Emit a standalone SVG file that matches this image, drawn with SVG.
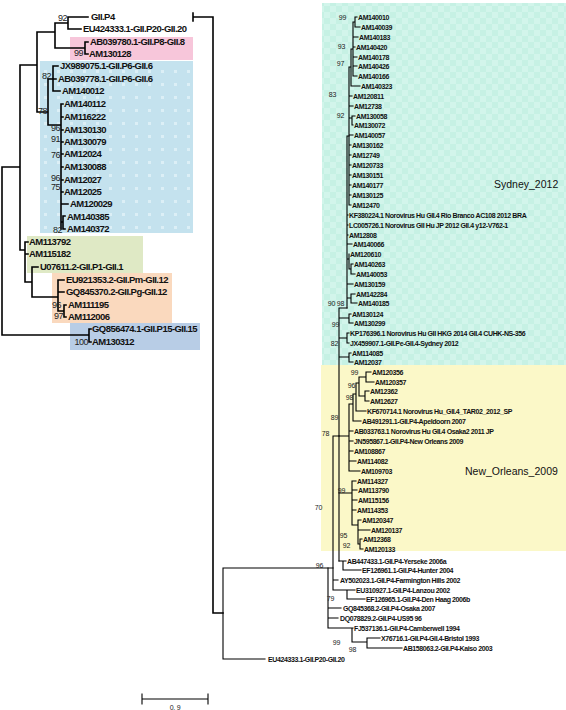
<svg xmlns="http://www.w3.org/2000/svg" width="566" height="710" viewBox="0 0 566 710">
<style>
.bl{stroke:#000;stroke-width:1.6;fill:none;stroke-linecap:square}
.br{stroke:#000;stroke-width:1.1;fill:none;stroke-linecap:square}
.tl{font-family:"Liberation Sans",Arial,sans-serif;font-size:9.5px;font-weight:bold;letter-spacing:-0.55px;fill:#111}
.tr{font-family:"Liberation Sans",Arial,sans-serif;font-size:7px;font-weight:bold;letter-spacing:-0.4px;fill:#111}
.bsl{font-family:"Liberation Sans",Arial,sans-serif;font-size:9px;letter-spacing:-0.5px;fill:#222;text-anchor:end}
.bsr{font-family:"Liberation Sans",Arial,sans-serif;font-size:7px;letter-spacing:-0.3px;fill:#222;text-anchor:end}
.cl{font-family:"Liberation Sans",Arial,sans-serif;font-size:10.5px;fill:#111}
</style>
<defs>
<pattern id="chk" width="12" height="12" patternUnits="userSpaceOnUse">
<rect width="12" height="12" fill="#c6f1e4"/>
<rect x="0" y="0" width="6" height="6" fill="#d2f5eb"/>
<rect x="6" y="6" width="6" height="6" fill="#d2f5eb"/>
</pattern>
<pattern id="dots" width="13" height="13" patternUnits="userSpaceOnUse">
<rect width="13" height="13" fill="#c4e2ee"/>
<rect x="5" y="5" width="3" height="3" fill="#dceff6"/>
</pattern>
</defs>
<rect width="566" height="710" fill="#fff"/>
<g id="clade-boxes">
<rect x="70" y="37" width="123" height="23" fill="#f7c6da"/>
<rect x="40" y="61" width="153" height="172" fill="url(#dots)"/>
<rect x="27" y="236" width="116" height="37" fill="#dfe9c5"/>
<rect x="52" y="273" width="120" height="50" fill="#fad9be"/>
<rect x="70" y="323" width="130" height="27" fill="#b8cde6"/>
<rect x="322" y="3" width="244" height="362" fill="url(#chk)"/>
<rect x="321" y="365" width="245" height="186" fill="#fbf8c8"/>
</g>
<g id="connectors">
<path class="bl" d="M2 167V335M2 167H20M2 335H89M89 329V342M89 329H91M89 342H91M20 65V250M20 65H37M37 32V112M37 32H55M55 23V48M55 23H68M68 17V29M68 17H88M68 29H81M55 48H85M85 42V54M85 42H88M85 54H88M37 112H48M48 79V125M48 79H53M53 66V91M53 66H58M53 79H56M53 91H60M48 125H61M61 104V229M61 104H63M61 117H63M61 130H63M61 142H63M61 154H63M61 167H63M61 180H63M61 192H63M61 204H68M61 222H63M63 216V229M63 216H65M63 229H65M20 250H25M25 242V282M25 242H28M25 254H28M25 282H32M32 267V297M32 267H38M32 297H58M58 280V311M58 280H64M58 292H64M58 311H64M64 305V317M64 305H66M64 317H66"/>
<path class="bl" d="M193 13V21M193 17H213M213 17V613M213 613H223"/>
<path class="br" d="M223 568V659M223 568H333M223 659H265"/>
<path class="br" d="M355 17V27M355 17H357M355 27H360M353 22V76M353 22H355M353 37H358M353 47H355M353 57H357M353 66H357M353 76H357M351 49V86M351 49H353M351 86H360M349 67V205M349 67H351M349 96H352M349 106H353M349 118H352M352 116V125M352 116H355M352 125H353M349 135H353M349 145H351M349 155H351M349 165H351M349 175H351M349 185H351M349 195H351M349 205H351"/>
<path class="br" d="M347 136V308M347 136H349M347 215H348M347 225H348M347 235H348M347 244H352M347 259H349M349 254V269M349 269H351M351 264V274M351 264H353M351 274H355M347 284H353M347 298H351M351 294V303M351 294H355M351 303H357"/>
<path class="br" d="M339 308V561M339 308H347M339 318H349M349 314V323M349 314H351M349 323H353M339 338H347M347 333V343M347 333H349M347 343H349M339 357H349M349 353V362M349 353H351M349 362H353"/>
<path class="br" d="M339 436H349M349 404V471M349 404H353M349 431H353M349 441H353M349 451H353M349 461H356M349 471H360M353 394V421M353 394H356M353 421H361M356 383V411M356 383H359M356 411H366M359 377V396M359 377H366M359 396H365M366 372V382M366 372H371M366 382H374M365 391V401M365 391H369M365 401H369"/>
<path class="br" d="M339 493H352M352 481V525M352 481H356M352 490H357M352 500H357M352 510H356M352 525H358M358 520V544M358 520H361M358 530H370M358 544H360M360 539V549M360 539H362M360 549H363M339 561H346M343 561V570M343 570H361"/>
<path class="br" d="M333 436V590M333 436H339M333 580H338M333 590H355M347 590V599M347 599H365M328 568V628M328 608H341M328 618H338M328 628H353M352 628V642M352 642H367M367 638V648M367 638H380M367 648H402"/>
<path class="br" d="M142 699H208M142 694V704M208 694V704"/>
</g>
<g id="left-tree-labels">
<g id="n-GII.P4"><text class="tl" x="91" y="20.4">GII.P4</text></g>
<g id="n-EU424333-a"><text class="tl" x="83" y="32.4">EU424333.1-GII.P20-GII.20</text></g>
<g id="n-AB039780"><text class="tl" x="90" y="45.4">AB039780.1-GII.P8-GII.8</text></g>
<g id="n-AM130128"><text class="tl" x="89" y="57.4">AM130128</text></g>
<g id="n-JX989075"><text class="tl" x="60" y="69.4">JX989075.1-GII.P6-GII.6</text></g>
<g id="n-AB039778"><text class="tl" x="58" y="82.4">AB039778.1-GII.P6-GII.6</text></g>
<g id="n-AM140012"><text class="tl" x="62" y="94.4">AM140012</text></g>
<g id="n-AM140112"><text class="tl" x="64" y="107.4">AM140112</text></g>
<g id="n-AM116222"><text class="tl" x="64" y="120.4">AM116222</text></g>
<g id="n-AM130130"><text class="tl" x="64" y="133.4">AM130130</text></g>
<g id="n-AM130079"><text class="tl" x="64" y="145.4">AM130079</text></g>
<g id="n-AM12024"><text class="tl" x="64" y="157.4">AM12024</text></g>
<g id="n-AM130088"><text class="tl" x="64" y="170.4">AM130088</text></g>
<g id="n-AM12027"><text class="tl" x="64" y="183.4">AM12027</text></g>
<g id="n-AM12025"><text class="tl" x="64" y="195.4">AM12025</text></g>
<g id="n-AM120029"><text class="tl" x="70" y="207.4">AM120029</text></g>
<g id="n-AM140385"><text class="tl" x="67" y="220.4">AM140385</text></g>
<g id="n-AM140372"><text class="tl" x="67" y="232.4">AM140372</text></g>
<g id="n-AM113792"><text class="tl" x="29" y="245.4">AM113792</text></g>
<g id="n-AM115182"><text class="tl" x="29" y="257.4">AM115182</text></g>
<g id="n-U07611"><text class="tl" x="40" y="270.4">U07611.2-GII.P1-GII.1</text></g>
<g id="n-EU921353"><text class="tl" x="66" y="283.4">EU921353.2-GII.Pm-GII.12</text></g>
<g id="n-GQ845370"><text class="tl" x="66" y="295.4">GQ845370.2-GII.Pg-GII.12</text></g>
<g id="n-AM111195"><text class="tl" x="68" y="308.4">AM111195</text></g>
<g id="n-AM112006"><text class="tl" x="68" y="320.4">AM112006</text></g>
<g id="n-GQ856474"><text class="tl" x="92" y="332.4">GQ856474.1-GII.P15-GII.15</text></g>
<g id="n-AM130312"><text class="tl" x="92" y="345.4">AM130312</text></g>
</g>
<g id="left-bootstrap">
<text class="bsl" x="67" y="21">92</text>
<text class="bsl" x="83" y="56">99</text>
<text class="bsl" x="51" y="79">82</text>
<text class="bsl" x="47" y="114">78</text>
<text class="bsl" x="60" y="131">96</text>
<text class="bsl" x="60" y="142">91</text>
<text class="bsl" x="60" y="158">76</text>
<text class="bsl" x="60" y="181">96</text>
<text class="bsl" x="60" y="190">75</text>
<text class="bsl" x="62" y="233">82</text>
<text class="bsl" x="61" y="308">96</text>
<text class="bsl" x="63" y="319">97</text>
<text class="bsl" x="88" y="345">100</text>
</g>
<g id="right-tree-labels">
<g id="n-AM140010"><text class="tr" x="358" y="19.5">AM140010</text></g>
<g id="n-AM140039"><text class="tr" x="361" y="29.5">AM140039</text></g>
<g id="n-AM140183"><text class="tr" x="359" y="39.5">AM140183</text></g>
<g id="n-AM140420"><text class="tr" x="356" y="49.5">AM140420</text></g>
<g id="n-AM140178"><text class="tr" x="358" y="59.5">AM140178</text></g>
<g id="n-AM140426"><text class="tr" x="358" y="68.5">AM140426</text></g>
<g id="n-AM140166"><text class="tr" x="358" y="78.5">AM140166</text></g>
<g id="n-AM140323"><text class="tr" x="361" y="88.5">AM140323</text></g>
<g id="n-AM120811"><text class="tr" x="353" y="98.5">AM120811</text></g>
<g id="n-AM12738"><text class="tr" x="354" y="108.5">AM12738</text></g>
<g id="n-AM130058"><text class="tr" x="356" y="118.5">AM130058</text></g>
<g id="n-AM130072"><text class="tr" x="354" y="127.5">AM130072</text></g>
<g id="n-AM140057"><text class="tr" x="354" y="137.5">AM140057</text></g>
<g id="n-AM130162"><text class="tr" x="352" y="147.5">AM130162</text></g>
<g id="n-AM12749"><text class="tr" x="352" y="157.5">AM12749</text></g>
<g id="n-AM120733"><text class="tr" x="352" y="167.5">AM120733</text></g>
<g id="n-AM130151"><text class="tr" x="352" y="177.5">AM130151</text></g>
<g id="n-AM140177"><text class="tr" x="352" y="187.5">AM140177</text></g>
<g id="n-AM130125"><text class="tr" x="352" y="197.5">AM130125</text></g>
<g id="n-AM12470"><text class="tr" x="352" y="207.5">AM12470</text></g>
<g id="n-KF380224"><text class="tr" x="349" y="217.5">KF380224.1 Norovirus Hu GII.4 Rio Branco AC108 2012 BRA</text></g>
<g id="n-LC005726"><text class="tr" x="349" y="227.5">LC005726.1 Norovirus GII Hu JP 2012 GII.4 y12-V762-1</text></g>
<g id="n-AM12808"><text class="tr" x="349" y="237.5">AM12808</text></g>
<g id="n-AM140066"><text class="tr" x="353" y="246.5">AM140066</text></g>
<g id="n-AM120610"><text class="tr" x="350" y="256.5">AM120610</text></g>
<g id="n-AM140263"><text class="tr" x="354" y="266.5">AM140263</text></g>
<g id="n-AM140053"><text class="tr" x="356" y="276.5">AM140053</text></g>
<g id="n-AM130159"><text class="tr" x="354" y="286.5">AM130159</text></g>
<g id="n-AM142284"><text class="tr" x="356" y="296.5">AM142284</text></g>
<g id="n-AM140185"><text class="tr" x="358" y="305.5">AM140185</text></g>
<g id="n-AM130124"><text class="tr" x="352" y="316.5">AM130124</text></g>
<g id="n-AM130299"><text class="tr" x="354" y="325.5">AM130299</text></g>
<g id="n-KP176396"><text class="tr" x="350" y="335.5">KP176396.1 Norovirus Hu GII HKG 2014 GII.4 CUHK-NS-356</text></g>
<g id="n-JX459907"><text class="tr" x="350" y="345.5">JX459907.1-GII.Pe-GII.4-Sydney 2012</text></g>
<g id="n-AM114085"><text class="tr" x="352" y="355.5">AM114085</text></g>
<g id="n-AM12037"><text class="tr" x="354" y="364.5">AM12037</text></g>
<g id="n-AM120356"><text class="tr" x="372" y="374.5">AM120356</text></g>
<g id="n-AM120357"><text class="tr" x="375" y="384.5">AM120357</text></g>
<g id="n-AM12362"><text class="tr" x="370" y="393.5">AM12362</text></g>
<g id="n-AM12627"><text class="tr" x="370" y="403.5">AM12627</text></g>
<g id="n-KF670714"><text class="tr" x="367" y="413.5">KF670714.1 Norovirus Hu_GII.4_TAR02_2012_SP</text></g>
<g id="n-AB491291"><text class="tr" x="362" y="423.5">AB491291.1-GII.P4-Apeldoorn 2007</text></g>
<g id="n-AB033763"><text class="tr" x="354" y="433.5">AB033763.1 Norovirus Hu GII.4 Osaka2 2011 JP</text></g>
<g id="n-JN595867"><text class="tr" x="354" y="443.5">JN595867.1-GII.P4-New Orleans 2009</text></g>
<g id="n-AM108867"><text class="tr" x="354" y="453.5">AM108867</text></g>
<g id="n-AM114082"><text class="tr" x="357" y="463.5">AM114082</text></g>
<g id="n-AM109703"><text class="tr" x="361" y="473.5">AM109703</text></g>
<g id="n-AM114327"><text class="tr" x="357" y="483.5">AM114327</text></g>
<g id="n-AM113790"><text class="tr" x="358" y="492.5">AM113790</text></g>
<g id="n-AM115156"><text class="tr" x="358" y="502.5">AM115156</text></g>
<g id="n-AM114353"><text class="tr" x="357" y="512.5">AM114353</text></g>
<g id="n-AM120347"><text class="tr" x="362" y="522.5">AM120347</text></g>
<g id="n-AM120137"><text class="tr" x="371" y="532.5">AM120137</text></g>
<g id="n-AM12368"><text class="tr" x="363" y="541.5">AM12368</text></g>
<g id="n-AM120133"><text class="tr" x="364" y="551.5">AM120133</text></g>
<g id="n-AB447433"><text class="tr" x="347" y="563.5">AB447433.1-GII.P4-Yerseke 2006a</text></g>
<g id="n-EF126961"><text class="tr" x="362" y="572.5">EF126961.1-GII.P4-Hunter 2004</text></g>
<g id="n-AY502023"><text class="tr" x="340" y="582.5">AY502023.1-GII.P4-Farmington Hills 2002</text></g>
<g id="n-EU310927"><text class="tr" x="356" y="592.5">EU310927.1-GII.P4-Lanzou 2002</text></g>
<g id="n-EF126965"><text class="tr" x="366" y="601.5">EF126965.1-GII.P4-Den Haag 2006b</text></g>
<g id="n-GQ845368"><text class="tr" x="343" y="610.5">GQ845368.2-GII.P4-Osaka 2007</text></g>
<g id="n-DQ078829"><text class="tr" x="340" y="620.5">DQ078829.2-GII.P4-US95 96</text></g>
<g id="n-FJ537136"><text class="tr" x="354" y="630.5">FJ537136.1-GII.P4-Camberwell 1994</text></g>
<g id="n-X76716"><text class="tr" x="381" y="640.5">X76716.1-GII.P4-GII.4-Bristol 1993</text></g>
<g id="n-AB158063"><text class="tr" x="403" y="650.5">AB158063.2-GII.P4-Kaiso 2003</text></g>
<g id="n-EU424333-b"><text class="tr" x="268" y="661.5">EU424333.1-GII.P20-GII.20</text></g>
</g>
<g id="right-bootstrap">
<text class="bsr" x="346" y="19.5">99</text>
<text class="bsr" x="345" y="48.5">93</text>
<text class="bsr" x="344" y="65.5">97</text>
<text class="bsr" x="336" y="96.5">83</text>
<text class="bsr" x="344" y="117.5">92</text>
<text class="bsr" x="335" y="305.5">90</text>
<text class="bsr" x="344" y="305.5">98</text>
<text class="bsr" x="339" y="326.5">99</text>
<text class="bsr" x="338" y="345.5">82</text>
<text class="bsr" x="358" y="374.5">99</text>
<text class="bsr" x="355" y="387.5">96</text>
<text class="bsr" x="353" y="399.5">98</text>
<text class="bsr" x="338" y="419.5">89</text>
<text class="bsr" x="329" y="435.5">78</text>
<text class="bsr" x="345" y="492.5">99</text>
<text class="bsr" x="322" y="509.5">70</text>
<text class="bsr" x="347" y="537.5">95</text>
<text class="bsr" x="350" y="547.5">92</text>
<text class="bsr" x="323" y="567.5">96</text>
<text class="bsr" x="334" y="600.5">79</text>
<text class="bsr" x="340" y="644.5">99</text>
<text class="bsr" x="356" y="651.5">98</text>
</g>
<g id="clade-labels">
<text class="cl" x="494" y="188">Sydney_2012</text>
<text class="cl" x="465" y="475">New_Orleans_2009</text>
</g>
<g id="scale">
<text class="bsr" x="175" y="709.5" style="text-anchor:middle">0. 9</text>
</g>
</svg>
